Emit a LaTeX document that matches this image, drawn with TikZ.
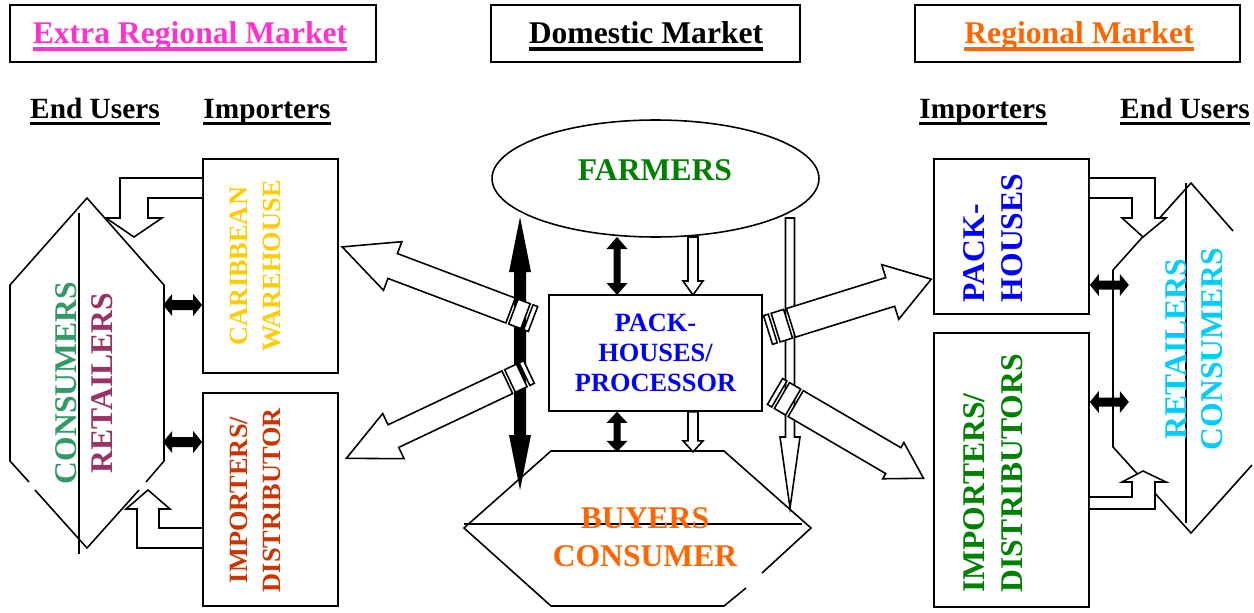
\documentclass[tikz,border=0pt]{standalone}
\usepackage{fontspec}
\setmainfont{Liberation Serif}
\usepackage{tikz}
\usetikzlibrary{shapes.geometric, calc}

\definecolor{pinkmag}{HTML}{FF33CC}
\definecolor{regorange}{HTML}{FF6600}
\definecolor{cwhyellow}{HTML}{FFCC00}
\definecolor{idlred}{HTML}{CC3300}
\definecolor{congreen}{HTML}{339966}
\definecolor{retpurple}{HTML}{993366}
\definecolor{farmgreen}{HTML}{008000}
\definecolor{packblue}{HTML}{0000FF}
\definecolor{endcyan}{HTML}{00CCFF}

\newsavebox\ulbox
\newcommand\ulbar[2]{\sbox\ulbox{#2}\rlap{\rule[-#1]{\wd\ulbox}{2pt}}\usebox\ulbox}

\begin{document}
\begin{tikzpicture}[
    x=0.02cm, y=-0.02cm,
    line width=0.9pt,
    box/.style={draw, line width=1pt, inner sep=0pt},
    hdr/.style={anchor=base, inner sep=0pt, font=\fontsize{16.7}{20}\selectfont\bfseries},
    ttl/.style={anchor=base, inner sep=0pt, font=\fontsize{18}{21}\selectfont\bfseries},
    big/.style={inner sep=0pt, align=center, font=\fontsize{18}{21}\selectfont\bfseries},
    mid/.style={inner sep=0pt, align=center, font=\fontsize{15}{17.3}\selectfont\bfseries},
    bent/.style={draw, fill=white},
    pics/hollow/.style n args={4}{code={
        \draw[fill=white] (0,-#2) -- ({#1-#4},-#2) -- ({#1-#4},-#3) -- (#1,0)
            -- ({#1-#4},#3) -- ({#1-#4},#2) -- (0,#2) -- cycle;
    }},
    pics/dbl/.style n args={4}{code={
        \fill (0,0) -- (#4,-#3) -- (#4,-#2) -- ({#1-#4},-#2) -- ({#1-#4},-#3) -- (#1,0)
            -- ({#1-#4},#3) -- ({#1-#4},#2) -- (#4,#2) -- (#4,#3) -- cycle;
    }},
    pics/striped/.style n args={4}{code={
        \draw[fill=white] (0,-#2) rectangle (5,#2);
        \draw[fill=white] (8,-#2) rectangle (21,#2);
        \draw[fill=white] (24,-#2) -- ({#1-#4},-#2) -- ({#1-#4},-#3) -- (#1,0)
            -- ({#1-#4},#3) -- ({#1-#4},#2) -- (24,#2) -- cycle;
    }}
]
    \useasboundingbox (0,0) rectangle (1254,612);

    % Titles
    \node[box, minimum width=7.32cm, minimum height=1.14cm] (extra) at (193,33.5) {};
    \node[box, minimum width=6.18cm, minimum height=1.14cm] (domestic) at (645.5,33.5) {};
    \node[box, minimum width=6.5cm, minimum height=1.14cm] (regional) at (1077.5,33.5) {};
    \node[ttl, text=pinkmag] (extratxt) at (190,43) {\ulbar{4.5pt}{Extra Regional Market}};
    \node[ttl] (domtxt) at (646,43) {\ulbar{4.5pt}{Domestic Market}};
    \node[ttl, text=regorange] (regtxt) at (1079,43) {\ulbar{4.5pt}{Regional Market}};

    \node[hdr] (endl) at (95,118) {\ulbar{4.2pt}{End Users}};
    \node[hdr] (impl) at (267,118) {\ulbar{4.2pt}{Importers}};
    \node[hdr] (impr) at (983,118) {\ulbar{4.2pt}{Importers}};
    \node[hdr] (endr) at (1185,118) {\ulbar{4.2pt}{End Users}};

    % Domestic market
    \node[draw, ellipse, minimum width=6.54cm, minimum height=2.34cm, inner sep=0pt] (farmers) at (655.5,178.5) {};
    \node[big, text=farmgreen] (farmtxt) at (655,170) {FARMERS};
    \node[box, mid, minimum width=4.26cm, minimum height=2.32cm, text=packblue] (pack) at (655.5,353) {PACK-\\HOUSES/\\PROCESSOR};

    \coordinate (b1) at (551,451);
    \coordinate (b2) at (724,451);
    \coordinate (b3) at (811,528);
    \coordinate (b4) at (724,606);
    \coordinate (b5) at (551,606);
    \coordinate (b6) at (464,528);
    \draw (746,588) -- (b4) -- (b5) -- (b6) -- (b1) -- (b2) -- (b3) -- (762,573);
    \draw (464,524) -- (802,524);
    \node[big, text=regorange, font=\fontsize{18}{21.5}\selectfont\bfseries] (buytxt) at (645,537) {BUYERS\\CONSUMER};

    \coordinate (bt) at (520,217);
    \pic[rotate=-90] at (bt) {dbl={273}{6}{11}{55}};
    \pic[rotate=-90] at (790,218) {hollow={290}{4.5}{10}{71}};

    \pic[rotate=159.3] at (533,319) {striped={204}{13.3}{26}{54}};
    \pic[rotate=-154.7] at (529,372) {striped={202}{12.5}{25}{52}};
    \pic[rotate=17.3] at (768,330) {striped={171}{15}{28.6}{43}};
    \pic[rotate=-30.3] at (775,391.5) {striped={172}{15}{21}{35}};

    \coordinate (fa) at (617,237);
    \pic[rotate=-90] at (fa) {dbl={58}{3.5}{10.5}{12}};
    \pic[rotate=-90] at (fa |- pack.south) {dbl={40}{3.5}{10.5}{11}};
    \pic[rotate=-90] at (693,237) {hollow={58}{5}{10}{14}};
    \pic[rotate=-90] at (pack.south -| 693,0) {hollow={40}{5}{10}{11}};

    % Extra regional market
    \node[box, minimum width=2.7cm, minimum height=4.28cm] (cwh) at (270.5,266) {};
    \node[box, minimum width=2.7cm, minimum height=4.26cm] (idl) at (270.5,499.5) {};
    \node[mid, rotate=90, text=cwhyellow, font=\fontsize{15}{18.5}\selectfont\bfseries] (cwhtxt) at (255.5,266) {CARIBBEAN\\WAREHOUSE};
    \node[mid, rotate=90, text=idlred, font=\fontsize{15}{18.5}\selectfont\bfseries] (idltxt) at (255.5,500) {IMPORTERS/\\DISTRIBUTOR};

    \draw (146,482) -- (164,461) -- (164,285) -- (87,198) -- (10,285) -- (10,461) -- (29,482);
    \draw (35,490) -- (87,548) -- (139,490);
    \draw (79,213) -- (79,554);
    \node[big, rotate=90, font=\fontsize{18}{20.4}\selectfont\bfseries] (lhextxt) at (84,383)
        {\textcolor{congreen}{CONSUMERS}\\\textcolor{retpurple}{RETAILERS}};

    \draw[bent] (cwh.west |- 0,178) -- (120,178) -- (120,218) -- (106,218) -- (134,237)
        -- (162,218) -- (148,218) -- (148,198) -- (cwh.west |- 0,198);
    \draw[bent] (idl.west |- 0,548) -- (137,548) -- (137,509) -- (126,509) -- (148,490)
        -- (170,509) -- (159,509) -- (159,528) -- (idl.west |- 0,528);
    \pic at ($(cwh.west |- 0,305)+(-39,0)$) {dbl={39}{5}{11}{9}};
    \pic at ($(idl.west |- 0,442)+(-39,0)$) {dbl={39}{5}{11}{9}};

    % Regional market
    \node[box, minimum width=3.1cm, minimum height=3.1cm] (ph) at (1011.5,236.5) {};
    \node[box, minimum width=3.1cm, minimum height=5.48cm] (idr) at (1011.5,470) {};
    \node[big, rotate=90, align=left, text=packblue, font=\fontsize{18}{21.4}\selectfont\bfseries] (phtxt) at (993,238) {PACK-\\HOUSES};
    \node[big, rotate=90, align=left, text=farmgreen, font=\fontsize{18}{21.4}\selectfont\bfseries] (idrtxt) at (993,473.5) {IMPORTERS/\\DISTRIBUTORS};

    \draw (1233,231) -- (1191,183) -- (1113,270) -- (1113,447) -- (1191,533) -- (1252,465);
    \draw (1186,183) -- (1186,523);
    \node[big, rotate=90, text=endcyan, font=\fontsize{18}{20.8}\selectfont\bfseries] (rhextxt) at (1194,349) {RETAILERS\\CONSUMERS};

    \draw[bent] (ph.east |- 0,178) -- (1155,178) -- (1155,218) -- (1166,218) -- (1143,237)
        -- (1122,218) -- (1132,218) -- (1132,198) -- (ph.east |- 0,198);
    \draw[bent] (idr.east |- 0,509) -- (1155,509) -- (1155,482) -- (1166,482) -- (1143,471)
        -- (1122,482) -- (1132,482) -- (1132,497) -- (idr.east |- 0,497);
    \pic at (ph.east |- 0,285) {dbl={39}{4.5}{11}{9}};
    \pic at (idr.east |- 0,402) {dbl={39}{4.5}{11}{9}};
\end{tikzpicture}
\end{document}
